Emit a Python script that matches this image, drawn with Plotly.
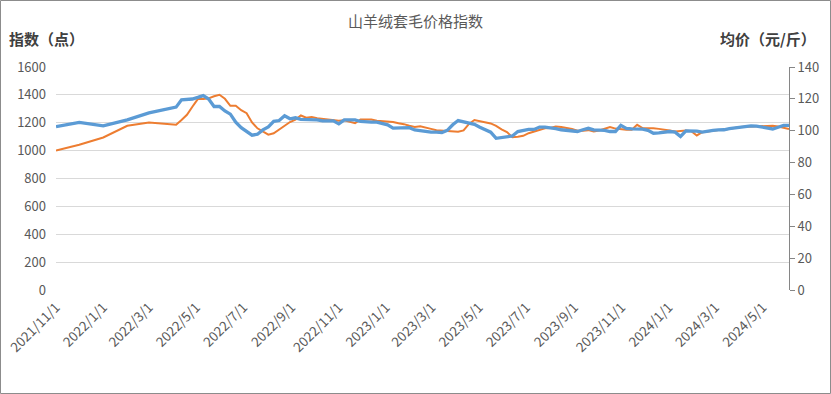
import pandas as pd
import plotly.graph_objects as go

# Early monthly points, then weekly points
monthly_dates = ["2021-11-01", "2021-12-01", "2022-01-01", "2022-02-01", "2022-03-01"]
weekly_start = "2022-04-05"
n_weekly = 114

# 指数（点） – left axis
index_monthly = [1000, 1042, 1094, 1178, 1202]
index_weekly = [
    1185, 1220, 1257, 1315, 1370, 1370, 1375, 1390, 1401, 1372,
    1322, 1322, 1290, 1269, 1202, 1160, 1135, 1115, 1124, 1152,
    1178, 1205, 1222, 1252, 1236, 1242, 1232, 1228, 1226, 1224,
    1215, 1218, 1210, 1197, 1224, 1226, 1224, 1214, 1210, 1209,
    1206, 1196, 1190, 1178, 1170, 1175, 1168, 1156, 1147, 1143,
    1138, 1137, 1135, 1145, 1192, 1220, 1212, 1205, 1195, 1178,
    1152, 1133, 1096, 1100, 1106, 1125, 1137, 1152, 1160, 1162,
    1173, 1169, 1163, 1155, 1143, 1142, 1147, 1137, 1145, 1155,
    1169, 1158, 1152, 1150, 1150, 1185, 1162, 1162, 1160, 1156,
    1153, 1145, 1137, 1140, 1145, 1140, 1109, 1132, 1138, 1145,
    1148, 1150, 1158, 1165, 1170, 1172, 1173, 1174, 1176, 1178,
    1178, 1173, 1165, 1155,
]

# 均价（元/斤） – right axis
price_monthly = [102.6, 105.2, 103.1, 106.8, 111.2]
price_weekly = [
    114.8, 119.4, 119.4, 119.9, 120.9, 122.0, 119.9, 115.2, 115.2, 112.4,
    110.4, 105.4, 101.9, 99.5, 97.2, 97.8, 100.5, 102.4, 105.9, 106.4,
    109.4, 107.5, 108.1, 107.1, 107.1, 107.3, 106.8, 106.2, 106.2, 106.2,
    104.3, 106.8, 106.8, 106.8, 105.8, 105.4, 105.4, 105.4, 104.3, 103.7,
    101.6, 101.8, 101.9, 101.9, 100.5, 99.9, 99.5, 99.1, 99.1, 98.9,
    100.2, 103.7, 106.4, 105.6, 104.8, 104.0, 102.2, 100.5, 99.1, 95.2,
    95.7, 96.0, 96.7, 99.5, 100.2, 100.8, 100.8, 102.3, 102.2, 101.9,
    101.3, 100.6, 100.2, 99.9, 99.5, 100.6, 101.5, 100.5, 100.5, 100.2,
    99.5, 99.5, 103.4, 101.5, 101.2, 101.1, 101.0, 100.2, 98.4, 98.7,
    99.1, 99.5, 99.1, 96.4, 99.9, 100.0, 99.8, 99.1, 99.8, 100.2,
    100.5, 100.6, 101.3, 101.8, 102.4, 102.8, 103.0, 102.9, 102.2, 101.5,
    101.1, 102.2, 103.3, 103.4,
]

tick_dates = ["2021-11-01", "2022-01-01", "2022-03-01", "2022-05-01", "2022-07-01",
              "2022-09-01", "2022-11-01", "2023-01-01", "2023-03-01", "2023-05-01",
              "2023-07-01", "2023-09-01", "2023-11-01", "2024-01-01", "2024-03-01",
              "2024-05-01"]
tick_labels = ["2021/11/1", "2022/1/1", "2022/3/1", "2022/5/1", "2022/7/1",
               "2022/9/1", "2022/11/1", "2023/1/1", "2023/3/1", "2023/5/1",
               "2023/7/1", "2023/9/1", "2023/11/1", "2024/1/1", "2024/3/1",
               "2024/5/1"]

dates = list(pd.to_datetime(monthly_dates)) + list(pd.date_range(weekly_start, periods=n_weekly, freq="7D"))
index_vals = index_monthly + index_weekly
price_vals = price_monthly + price_weekly

FONT = "Noto Sans CJK SC, Noto Sans, sans-serif"
GREY = "#595959"

fig = go.Figure()
fig.add_trace(go.Scatter(x=dates, y=index_vals, mode="lines", name="指数",
                         line=dict(color="#ED7D31", width=2), yaxis="y"))
fig.add_trace(go.Scatter(x=dates, y=price_vals, mode="lines", name="均价",
                         line=dict(color="#5B9BD5", width=3.3), yaxis="y2"))

W, H = 831, 394
L, R, T, B = 56, 42, 67, 104
pw, ph = W - L - R, H - T - B

fig.update_layout(
    width=W, height=H,
    margin=dict(l=L, r=R, t=T, b=B, autoexpand=False),
    paper_bgcolor="white", plot_bgcolor="white",
    showlegend=False,
    font=dict(family=FONT, color=GREY, size=12),
    xaxis=dict(
        type="date", range=[dates[0], dates[-1]], automargin=False,
        tickmode="array", tickvals=tick_dates, ticktext=tick_labels,
        tickangle=-45, tickfont=dict(size=13.5, color=GREY), ticklabelstandoff=6,
        showgrid=False, zeroline=False, showline=False, ticks="",
    ),
    yaxis=dict(
        range=[0, 1600], dtick=200, tick0=0, automargin=False,
        showgrid=True, gridcolor="#D9D9D9", gridwidth=1,
        zeroline=False, showline=False, ticks="",
        tickfont=dict(size=13, color=GREY), ticklabelstandoff=9,
    ),
    yaxis2=dict(
        range=[0, 140], dtick=20, tick0=0, overlaying="y", side="right", automargin=False,
        showgrid=False, zeroline=False, showline=True, linecolor="#868686", linewidth=1,
        ticks="outside", ticklen=5, tickcolor="#868686",
        tickfont=dict(size=13, color=GREY),
    ),
    annotations=[
        dict(text="山羊绒套毛价格指数", x=(415 - L) / pw, y=(H - B - 20) / ph,
             xref="paper", yref="paper", showarrow=False,
             font=dict(size=15, color=GREY), xanchor="center", yanchor="middle"),
        dict(text="<b>指数（点）</b>", x=(7 - L) / pw, y=(H - B - 38) / ph,
             xref="paper", yref="paper", showarrow=False,
             font=dict(size=15, color="#404040"), xanchor="left", yanchor="middle"),
        dict(text="<b>均价（元/斤）</b>", x=(818 - L) / pw, y=(H - B - 38) / ph,
             xref="paper", yref="paper", showarrow=False,
             font=dict(size=15, color="#404040"), xanchor="right", yanchor="middle"),
    ],
    shapes=[
        dict(type="rect", xref="paper", yref="paper",
             x0=(0.5 - L) / pw, x1=(W - 0.5 - L) / pw,
             y0=(H - B - (H - 0.5)) / ph, y1=(H - B - 0.5) / ph,
             line=dict(color="#8C8C8C", width=1), fillcolor="rgba(0,0,0,0)", layer="below"),
    ],
)

fig.write_html("out.html", config={"displayModeBar": False},
               post_script="document.body.style.margin='0';document.body.style.overflow='hidden';")
